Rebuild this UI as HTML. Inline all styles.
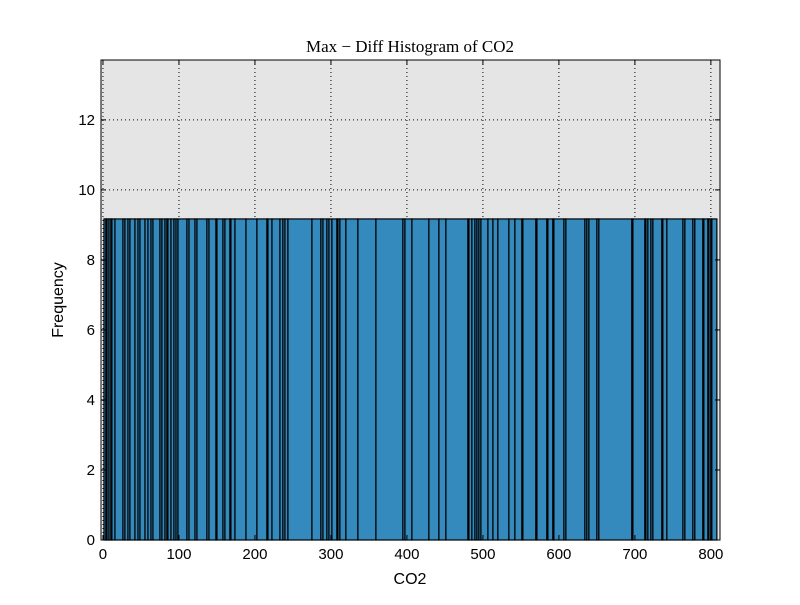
<!DOCTYPE html>
<html><head><meta charset="utf-8"><style>
body{margin:0;background:#fff;}
text{font-family:"Liberation Sans",sans-serif;}
</style></head><body>
<svg id="c" width="800" height="600" xmlns="http://www.w3.org/2000/svg"></svg>
<script>
const binEdges=[1.3,3.9,5.3,7.9,10.5,11.8,15.8,26.3,28.9,32.9,35.5,42.1,46.1,48.7,55.3,59.2,63.2,65.8,75,77.6,81.6,84.2,85.5,89.5,93.4,96.1,98.7,110.5,113.2,121.1,123.7,136.8,139.5,148.7,150,157.9,160.5,167.1,168.4,173.7,188.2,202.6,215.8,217.1,222.4,232.9,236.8,239.5,243.4,275,286.8,289.5,294.7,297.4,301.3,307.9,309.2,311.8,319.7,335.5,359.2,394.7,397.4,406.6,428.9,442.1,451.3,480.3,481.6,485.5,489.5,492.1,494.7,497.4,506.6,513.2,519.7,534.2,542.1,551.3,552.6,569.7,571.1,584.2,585.5,592.1,593.4,606.6,609.2,634.2,636.8,639.5,650,652.6,696,697.4,713.2,714.5,717.1,721.1,723.7,735.5,736.8,742.1,763.2,765.8,776.3,778.9,789.5,790.8,796.1,797.4,800,801.3,807.9];
const binHeight=9.17;
const xTicks=[0,100,200,300,400,500,600,700,800];
const yTicks=[0,2,4,6,8,10,12];
const L=101,R=720,T=60,B=540,xmin=-2.6,xmax=812,ymin=0,ymax=13.71;
const X=v=>L+(v-xmin)/(xmax-xmin)*(R-L);
const Y=v=>B-(v-ymin)/(ymax-ymin)*(B-T);
const svg=document.getElementById('c');const NS='http://www.w3.org/2000/svg';
function mk(t,a,p){const e=document.createElementNS(NS,t);for(const k in a)e.setAttribute(k,a[k]);(p||svg).appendChild(e);return e;}
const bg=mk('rect',{x:L,y:T,width:R-L,height:B-T,fill:'#e5e5e5'});


xTicks.forEach(t=>{const g=mk('line',{x1:X(t),x2:X(t),y1:T,y2:B,stroke:'#000','stroke-width':1,'stroke-dasharray':'1,3'});

});
yTicks.forEach(t=>{const g=mk('line',{x1:L,x2:R,y1:Y(t),y2:Y(t),stroke:'#000','stroke-width':1,'stroke-dasharray':'1,3'});

});
for(let i=0;i<binEdges.length-1;i++){
const r=mk('rect',{x:X(binEdges[i]),y:Y(binHeight),width:X(binEdges[i+1])-X(binEdges[i]),height:Y(0)-Y(binHeight),fill:'#348ABD',stroke:'#000','stroke-width':1.2});

}
const fr=mk('rect',{x:L,y:T,width:R-L,height:B-T,fill:'none',stroke:'#000','stroke-width':1});


xTicks.forEach(t=>{mk('line',{x1:X(t),x2:X(t),y1:B,y2:B-5,stroke:'#000'});mk('line',{x1:X(t),x2:X(t),y1:T,y2:T+5,stroke:'#000'});
const tx=mk('text',{x:X(t),y:B+19,'text-anchor':'middle','font-size':15});tx.textContent=t;

});
yTicks.forEach(t=>{mk('line',{x1:L,x2:L+5,y1:Y(t),y2:Y(t),stroke:'#000'});mk('line',{x1:R,x2:R-5,y1:Y(t),y2:Y(t),stroke:'#000'});
const tx=mk('text',{x:L-6,y:Y(t)+5,'text-anchor':'end','font-size':15});tx.textContent=t;

});
</script>
<svg style="position:absolute;left:0;top:0" width="800" height="600" xmlns="http://www.w3.org/2000/svg">
<text x="410" y="52" text-anchor="middle" font-size="17" style="font-family:'Liberation Serif',serif">Max − Diff Histogram of CO2</text>
<text x="410" y="584" text-anchor="middle" font-size="16">CO2</text>
<text x="63" y="300" text-anchor="middle" font-size="16" transform="rotate(-90 63 300)">Frequency</text>
</svg>
</body></html>
